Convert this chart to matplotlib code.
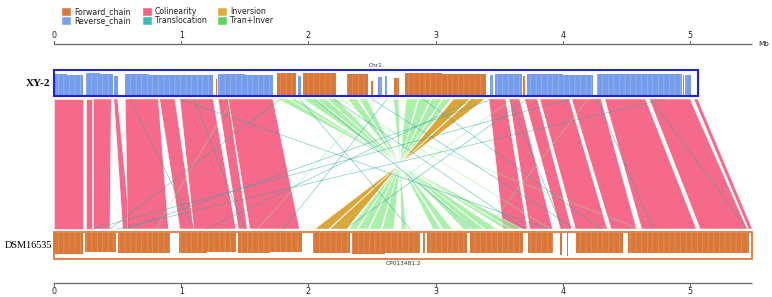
import matplotlib
matplotlib.use("Agg")
import matplotlib.pyplot as plt
from matplotlib.patches import Rectangle, Polygon

# ---------------- data ----------------
legend_labels = ["Forward_chain", "Reverse_chain", "Colinearity", "Translocation", "Inversion", "Tran+Inver"]
legend_colors = ["#d9773a", "#7aa0ea", "#f2607f", "#3cbdb5", "#e0ac3a", "#5fd35f"]

ref_name = "XY-2"
ref_chr = "Chr1"
ref_len = 5.06
qry_name = "DSM16535"
qry_chr = "CP013481.2"
qry_len = 5.49
axis_len = 5.49
tick_vals = [0, 1, 2, 3, 4, 5]
tick_labels = ["0", "1", "2", "3", "4", "5"]

# top genome gene blocks (Mb)
top_start = [0.00, 0.10, 0.25, 0.36, 0.47, 0.56, 0.75, 0.96, 1.27, 1.29, 1.50, 1.75, 1.92, 1.96, 2.30, 2.49, 2.55, 2.60,
             2.67, 2.76, 3.05, 3.43, 3.47, 3.69, 3.72, 4.00, 4.27, 4.60, 4.945, 4.96]
top_end = [0.10, 0.23, 0.36, 0.46, 0.50, 0.75, 0.96, 1.25, 1.28, 1.50, 1.72, 1.90, 1.94, 2.22, 2.47, 2.51, 2.58, 2.62,
           2.71, 3.05, 3.40, 3.45, 3.68, 3.70, 4.00, 4.24, 4.60, 4.94, 4.955, 5.01]
top_strand = ["-", "-", "-", "-", "-", "-", "-", "-", "+", "-", "-", "+", "-", "+", "+", "+", "-", "-",
              "+", "+", "+", "-", "-", "+", "-", "-", "-", "-", "+", "-"]
top_height = [0.90, 0.86, 0.92, 0.88, 0.80, 0.88, 0.84, 0.86, 0.70, 0.90, 0.85, 0.92, 0.80, 0.93, 0.88, 0.60, 0.78, 0.82,
              0.75, 0.93, 0.90, 0.85, 0.88, 0.80, 0.90, 0.86, 0.88, 0.90, 0.85, 0.86]

# bottom genome gene blocks (Mb), all forward
bot_start = [0.00, 0.24, 0.50, 0.98, 1.20, 1.45, 1.70, 2.04, 2.34, 2.60, 2.90, 2.93, 3.27, 3.73, 3.98, 4.03, 4.10, 4.51, 5.00]
bot_end = [0.23, 0.49, 0.91, 1.20, 1.43, 1.70, 1.95, 2.33, 2.60, 2.88, 2.92, 3.25, 3.69, 3.92, 3.99, 4.04, 4.47, 5.00, 5.46]
bot_height = [0.82, 0.76, 0.80, 0.80, 0.74, 0.80, 0.76, 0.80, 0.82, 0.78, 0.80, 0.80, 0.78, 0.80, 0.88, 0.92, 0.78, 0.80, 0.80]

# colinear blocks: top start, top end, bottom start, bottom end
col_ts = [0.00, 0.25, 0.31, 0.47, 0.56, 0.83, 0.99, 1.29, 1.37, 3.42, 3.58, 3.70, 3.82, 4.07, 4.33, 4.68, 5.03]
col_te = [0.23, 0.30, 0.45, 0.50, 0.82, 0.95, 1.25, 1.37, 1.72, 3.55, 3.66, 3.80, 4.05, 4.30, 4.65, 5.00, 5.06]
col_bs = [0.00, 0.25, 0.31, 0.54, 0.58, 0.99, 1.10, 1.45, 1.54, 3.53, 3.74, 3.98, 4.10, 4.38, 4.62, 5.08, 5.46]
col_be = [0.23, 0.30, 0.44, 0.60, 0.90, 1.10, 1.43, 1.52, 1.93, 3.72, 3.92, 4.07, 4.35, 4.58, 5.05, 5.45, 5.49]

# inversion blocks (top start, top end, bottom start, bottom end)
inv_ts = [3.14, 3.28]
inv_te = [3.27, 3.39]
inv_bs = [2.17, 2.05]
inv_be = [2.30, 2.16]

# translocation + inversion blocks
ti_ts = [1.76, 1.85, 1.96, 2.06, 2.15, 2.31, 2.40, 2.67, 2.77, 2.87, 2.97, 3.06]
ti_te = [1.84, 1.90, 2.05, 2.14, 2.22, 2.38, 2.46, 2.71, 2.86, 2.96, 3.05, 3.12]
ti_bs = [3.60, 3.54, 3.39, 3.30, 3.22, 3.06, 2.98, 2.73, 2.58, 2.48, 2.39, 2.32]
ti_be = [3.68, 3.59, 3.48, 3.38, 3.29, 3.13, 3.04, 2.77, 2.67, 2.57, 2.47, 2.38]

# translocations (thin links): top position, bottom position
tr_top = [0.99, 1.78, 4.06, 3.72, 3.58, 4.27, 4.69, 1.93, 2.05, 2.62, 3.45, 4.80, 2.20, 2.50, 0.60, 1.10, 2.90, 3.30]
tr_bot = [3.88, 0.44, 0.31, 2.29, 4.00, 4.71, 5.45, 2.80, 3.30, 1.80, 0.57, 0.50, 3.70, 4.10, 1.10, 1.50, 4.30, 1.20]

# faint tran+inver thin links
fi_top = [2.25, 2.52, 3.60, 4.20, 1.40, 2.00]
fi_bot = [3.90, 1.60, 2.20, 3.40, 0.80, 4.60]

# ---------------- layout ----------------
W, H = 772, 297
X0, SCALE = 54, 127.2

plt.rcParams["hatch.linewidth"] = 0.35

fig = plt.figure(figsize=(W / 100, H / 100), dpi=100)
ax = fig.add_axes([0, 0, 1, 1])
ax.set_xlim(-X0 / SCALE, (W - X0) / SCALE)
ax.set_ylim(H, 0)
ax.axis("off")

PX = 1 / SCALE  # one pixel in Mb
fwd_c, rev_c = "#d8712e", "#6f98ea"
fwd_l, rev_l = "#e8a070", "#a9c2f3"

# legend
for i, (lab, c) in enumerate(zip(legend_labels, legend_colors)):
    col, row = i // 2, i % 2
    xs = [62, 143, 218][col]
    ys = [7.5, 16.5][row]
    ax.add_patch(Rectangle(((xs - X0) * PX, ys), 8 * PX, 7, facecolor=c, edgecolor=c, lw=0.4))
    ax.text((xs + 12 - X0) * PX, ys + 3.8, lab, fontsize=5.6, va="center", ha="left", color="#222222",
            family="DejaVu Sans")

# scale axes
def draw_axis(y, up):
    ax.plot([0, axis_len], [y, y], color="#666666", lw=0.9, solid_capstyle="butt")
    for v, l in zip(tick_vals, tick_labels):
        if up:
            ax.plot([v, v], [y, y - 3], color="#666666", lw=0.7)
            ax.text(v, y - 3.5, l, fontsize=5.8, ha="center", va="bottom", color="#222222")
        else:
            ax.plot([v, v], [y, y + 3], color="#666666", lw=0.7)
            ax.text(v, y + 3.5, l, fontsize=5.8, ha="center", va="top", color="#222222")

draw_axis(44, True)
ax.text(axis_len + 6 * PX, 44.5, "Mb", fontsize=5.2, ha="left", va="center", color="#222222")
draw_axis(283, False)

# top chromosome
TOP_Y0, TOP_Y1 = 70, 96
for s, e, st, h in zip(top_start, top_end, top_strand, top_height):
    c = fwd_c if st == "+" else rev_c
    lc = fwd_l if st == "+" else rev_l
    hh = h * 24
    ax.add_patch(Rectangle((s, 95.5 - hh), max(e - s, 0.6 * PX), hh, facecolor=c, edgecolor=lc,
                           lw=0, hatch="|||", alpha=0.95))
ax.add_patch(Rectangle((0, TOP_Y0), ref_len, TOP_Y1 - TOP_Y0, facecolor="none", edgecolor="#1e22d8", lw=1.5))
ax.text(ref_len / 2, TOP_Y0 - 2, ref_chr, fontsize=4.2, ha="center", va="bottom", color="#333333")
ax.text(-4 * PX, (TOP_Y0 + TOP_Y1) / 2, ref_name, fontsize=8, ha="right", va="center",
        family="Liberation Serif", fontweight="bold", color="black")

# bottom chromosome
BOT_Y0, BOT_Y1 = 232, 259
for s, e, h in zip(bot_start, bot_end, bot_height):
    hh = h * 25
    ax.add_patch(Rectangle((s, 233), max(e - s, 0.6 * PX), hh, facecolor=fwd_c, edgecolor=fwd_l,
                           lw=0, hatch="|||", alpha=0.95))
ax.add_patch(Rectangle((0, BOT_Y0), qry_len, BOT_Y1 - BOT_Y0, facecolor="none", edgecolor="#d8712e", lw=1.2))
ax.text(qry_len / 2, BOT_Y1 + 2, qry_chr, fontsize=4.2, ha="center", va="top", color="#333333")
ax.text(-2 * PX, (BOT_Y0 + BOT_Y1) / 2, qry_name, fontsize=7.4, ha="right", va="center",
        family="Liberation Serif", color="black")

# links
LY0, LY1 = 99, 229

def ribbon(ts, te, bs, be, inverted, color, alpha, ec="white", lw=0.4, z=2):
    if inverted:
        pts = [(ts, LY0), (te, LY0), (bs, LY1), (be, LY1)]
    else:
        pts = [(ts, LY0), (te, LY0), (be, LY1), (bs, LY1)]
    ax.add_patch(Polygon(pts, closed=True, facecolor=color, edgecolor=ec, lw=lw, alpha=alpha, zorder=z))

for ts, te, bs, be in zip(col_ts, col_te, col_bs, col_be):
    ribbon(ts, te, bs, be, False, "#f45a7e", 0.9, z=2)

for ts, te, bs, be in zip(ti_ts, ti_te, ti_bs, ti_be):
    ribbon(ts, te, bs, be, True, "#8eec8e", 0.75, z=3)

for ts, te, bs, be in zip(inv_ts, inv_te, inv_bs, inv_be):
    ribbon(ts, te, bs, be, True, "#daa02a", 0.95, z=3)

for t, b in zip(fi_top, fi_bot):
    ax.plot([t, b], [LY0, LY1], color="#8eec8e", lw=0.6, alpha=0.5, zorder=3)

for t, b in zip(tr_top, tr_bot):
    ax.plot([t, b], [LY0, LY1], color="#2aa8a0", lw=0.5, alpha=0.6, zorder=4)

fig.savefig("out.png", dpi=100)
